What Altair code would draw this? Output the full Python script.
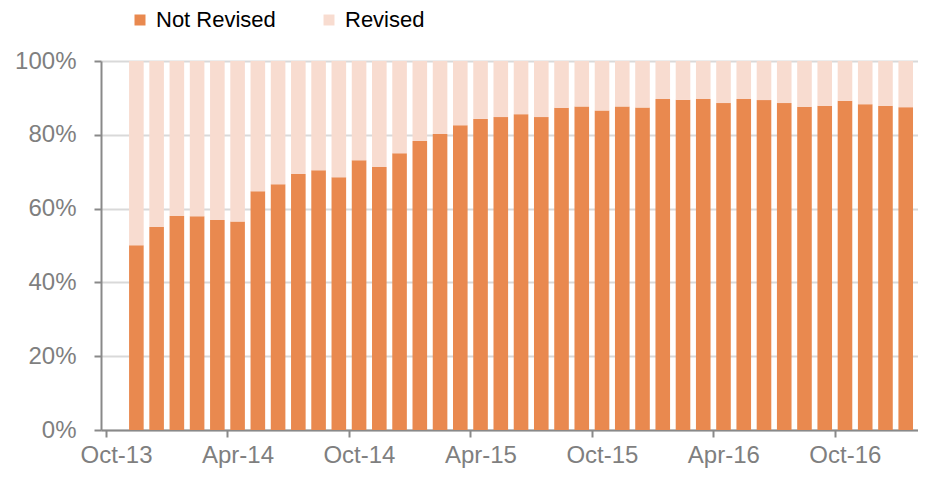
import altair as alt
import pandas as pd

months = ["Nov-13","Dec-13","Jan-14","Feb-14","Mar-14","Apr-14","May-14","Jun-14","Jul-14","Aug-14",
          "Sep-14","Oct-14","Nov-14","Dec-14","Jan-15","Feb-15","Mar-15","Apr-15","May-15","Jun-15",
          "Jul-15","Aug-15","Sep-15","Oct-15","Nov-15","Dec-15","Jan-16","Feb-16","Mar-16","Apr-16",
          "May-16","Jun-16","Jul-16","Aug-16","Sep-16","Oct-16","Nov-16","Dec-16","Jan-17"]
not_revised = [50.1, 55.0, 58.0, 57.9, 56.9, 56.5, 64.7, 66.6, 69.4, 70.4,
               68.5, 73.1, 71.3, 75.0, 78.3, 80.2, 82.6, 84.3, 84.8, 85.6,
               84.8, 87.3, 87.7, 86.6, 87.7, 87.4, 89.7, 89.5, 89.7, 88.6,
               89.7, 89.4, 88.6, 87.6, 87.9, 89.2, 88.3, 87.9, 87.5]
tick_labels = ["Oct-13", "Apr-14", "Oct-14", "Apr-15", "Oct-15", "Apr-16", "Oct-16"]
series = ["Not Revised", "Revised"]
colors = ["#E9894F", "#F8DCD0"]

rows = []
for i, (m, v) in enumerate(zip(months, not_revised)):
    pos = i + 1.5  # months since Oct-13, centred mid-month
    rows.append({"month": m, "pos": pos, "series": "Not Revised", "value": v, "ord": 0})
    rows.append({"month": m, "pos": pos, "series": "Revised", "value": round(100 - v, 2), "ord": 1})
df = pd.DataFrame(rows)

label_arr = "[" + ",".join("'%s'" % t for t in tick_labels) + "]"

chart = alt.Chart(df).mark_bar(width=14.6).encode(
    x=alt.X("pos:Q", scale=alt.Scale(domain=[0, 39.86], nice=False, zero=False),
            axis=alt.Axis(values=[0, 6, 12, 18, 24, 30, 36], grid=False, title=None,
                          labelExpr=label_arr + "[round(datum.value/6)]",
                          labelFontSize=24, labelColor="#7F7F7F", labelFont="Liberation Sans",
                          tickSize=7, tickColor="#898989", tickWidth=2, labelOffset=10,
                          domainColor="#898989", domainWidth=2, labelPadding=6)),
    y=alt.Y("value:Q", stack="zero", scale=alt.Scale(domain=[0, 100], nice=False),
            axis=alt.Axis(values=[0, 20, 40, 60, 80, 100], title=None,
                          labelExpr="datum.value + '%'",
                          labelFontSize=24, labelColor="#7F7F7F", labelFont="Liberation Sans",
                          tickSize=7, tickColor="#898989", tickWidth=2,
                          domainColor="#898989", domainWidth=2, labelPadding=18,
                          gridColor="#D9D9D9", gridWidth=2)),
    color=alt.Color("series:N", scale=alt.Scale(domain=series, range=colors),
                    legend=alt.Legend(title=None, orient="none", direction="horizontal",
                                      legendX=28, legendY=-52, padding=0, symbolType="square",
                                      symbolSize=121, symbolStrokeWidth=0,
                                      labelFontSize=22, labelFont="Liberation Sans",
                                      labelColor="#000000", labelOffset=5,
                                      columnPadding=42)),
    order=alt.Order("ord:Q"),
).properties(
    width=817, height=369,
    padding={"left": 93, "top": 53, "right": 0, "bottom": 39},
    autosize=alt.AutoSizeParams(type="none"),
).configure_view(stroke=None)

chart.save("out.html", embed_options={"renderer": "svg", "actions": False})
